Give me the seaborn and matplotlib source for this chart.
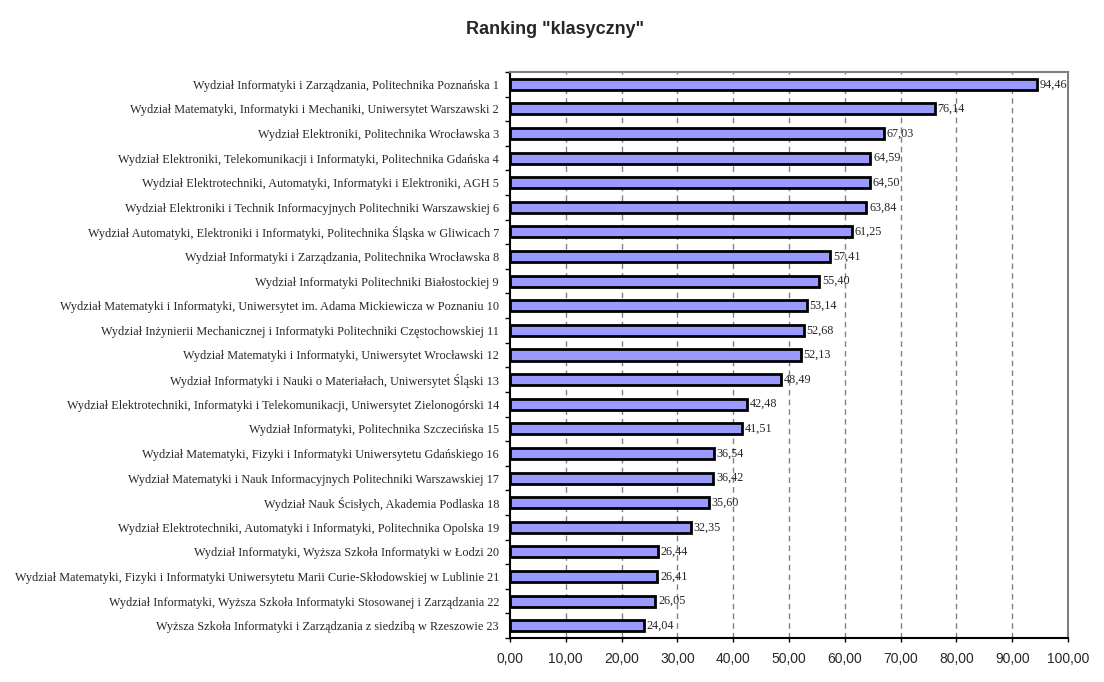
import pandas as pd
import numpy as np
import matplotlib
matplotlib.use('Agg')
import matplotlib.pyplot as plt
import seaborn as sns
from matplotlib.ticker import FixedLocator, FuncFormatter

# Faculty names (rank number included as in the original)
faculties = [
    'Wydział Informatyki i Zarządzania, Politechnika Poznańska 1',
    'Wydział Matematyki, Informatyki i Mechaniki, Uniwersytet Warszawski 2',
    'Wydział Elektroniki, Politechnika Wrocławska 3',
    'Wydział Elektroniki, Telekomunikacji i Informatyki, Politechnika Gdańska 4',
    'Wydział Elektrotechniki, Automatyki, Informatyki i Elektroniki, AGH 5',
    'Wydział Elektroniki i Technik Informacyjnych Politechniki Warszawskiej 6',
    'Wydział Automatyki, Elektroniki i Informatyki, Politechnika Śląska w Gliwicach 7',
    'Wydział Informatyki i Zarządzania, Politechnika Wrocławska 8',
    'Wydział Informatyki Politechniki Białostockiej 9',
    'Wydział Matematyki i Informatyki, Uniwersytet im. Adama Mickiewicza w Poznaniu 10',
    'Wydział Inżynierii Mechanicznej i Informatyki Politechniki Częstochowskiej 11',
    'Wydział Matematyki i Informatyki, Uniwersytet Wrocławski 12',
    'Wydział Informatyki i Nauki o Materiałach, Uniwersytet Śląski 13',
    'Wydział Elektrotechniki, Informatyki i Telekomunikacji, Uniwersytet Zielonogórski 14',
    'Wydział Informatyki, Politechnika Szczecińska 15',
    'Wydział Matematyki, Fizyki i Informatyki Uniwersytetu Gdańskiego 16',
    'Wydział Matematyki i Nauk Informacyjnych Politechniki Warszawskiej 17',
    'Wydział Nauk Ścisłych, Akademia Podlaska 18',
    'Wydział Elektrotechniki, Automatyki i Informatyki, Politechnika Opolska 19',
    'Wydział Informatyki, Wyższa Szkoła Informatyki w Łodzi 20',
    'Wydział Matematyki, Fizyki i Informatyki Uniwersytetu Marii Curie-Skłodowskiej w Lublinie 21',
    'Wydział Informatyki, Wyższa Szkoła Informatyki Stosowanej i Zarządzania 22',
    'Wyższa Szkoła Informatyki i Zarządzania z siedzibą w Rzeszowie 23',
]

# Scores
scores = [94.46, 76.14, 67.03, 64.59, 64.50, 63.84, 61.25, 57.41, 55.40, 53.14,
          52.68, 52.13, 48.49, 42.48, 41.51, 36.54, 36.42, 35.60, 32.35, 26.44,
          26.41, 26.05, 24.04]

x_ticks = [0, 10, 20, 30, 40, 50, 60, 70, 80, 90, 100]

df = pd.DataFrame({'faculty': faculties, 'score': scores})

def comma(v):
    return '{:.2f}'.format(v).replace('.', ',')

sns.set_style('white')
plt.rcParams['font.family'] = ['Liberation Serif', 'DejaVu Serif']

fig = plt.figure(figsize=(11.04, 6.82), dpi=100)
ax = fig.add_axes([510 / 1104, 44 / 682, 558 / 1104, 566 / 682])

sns.barplot(data=df, x='score', y='faculty', orient='h', color='#9999FF',
            edgecolor='black', linewidth=2, width=0.45, saturation=1, ax=ax,
            zorder=3)

# Value labels next to the bars
for i, v in enumerate(scores):
    ax.text(v + 0.5, i, comma(v), va='center', ha='left', fontsize=8.7,
            family='Liberation Serif', zorder=4)

ax.set_xlim(0, 100)
ax.set_ylim(len(faculties) - 0.5, -0.5)
ax.xaxis.set_major_locator(FixedLocator(x_ticks))
ax.xaxis.set_major_formatter(FuncFormatter(lambda v, p: comma(v)))
for lab in ax.get_xticklabels():
    lab.set_family('Liberation Sans')
    lab.set_fontsize(10)

# Dashed vertical gridlines
for t in x_ticks[1:-1]:
    ax.axvline(t, color='#808080', linestyle=(0, (4, 3)), linewidth=1, zorder=1)

ax.set_xlabel('')
ax.set_ylabel('')
ax.tick_params(axis='y', length=0, labelsize=8.8, pad=8)
ax.tick_params(axis='x', direction='out', length=3, width=1, color='black',
               pad=7, bottom=True)
ax.yaxis.set_minor_locator(FixedLocator(np.arange(-0.5, len(faculties), 1.0)))
ax.tick_params(axis='y', which='minor', direction='out', length=3.5, width=1,
               color='black', left=True)

for side in ['left', 'bottom']:
    ax.spines[side].set_color('black')
    ax.spines[side].set_linewidth(1.5)
for side in ['top', 'right']:
    ax.spines[side].set_visible(True)
    ax.spines[side].set_color('#808080')
    ax.spines[side].set_linewidth(1.5)

fig.text(555 / 1104, 1 - 30 / 682, 'Ranking "klasyczny"', ha='center',
         va='center', fontsize=13, fontweight='bold', family='Liberation Sans')

fig.savefig('out.png', dpi=100)
